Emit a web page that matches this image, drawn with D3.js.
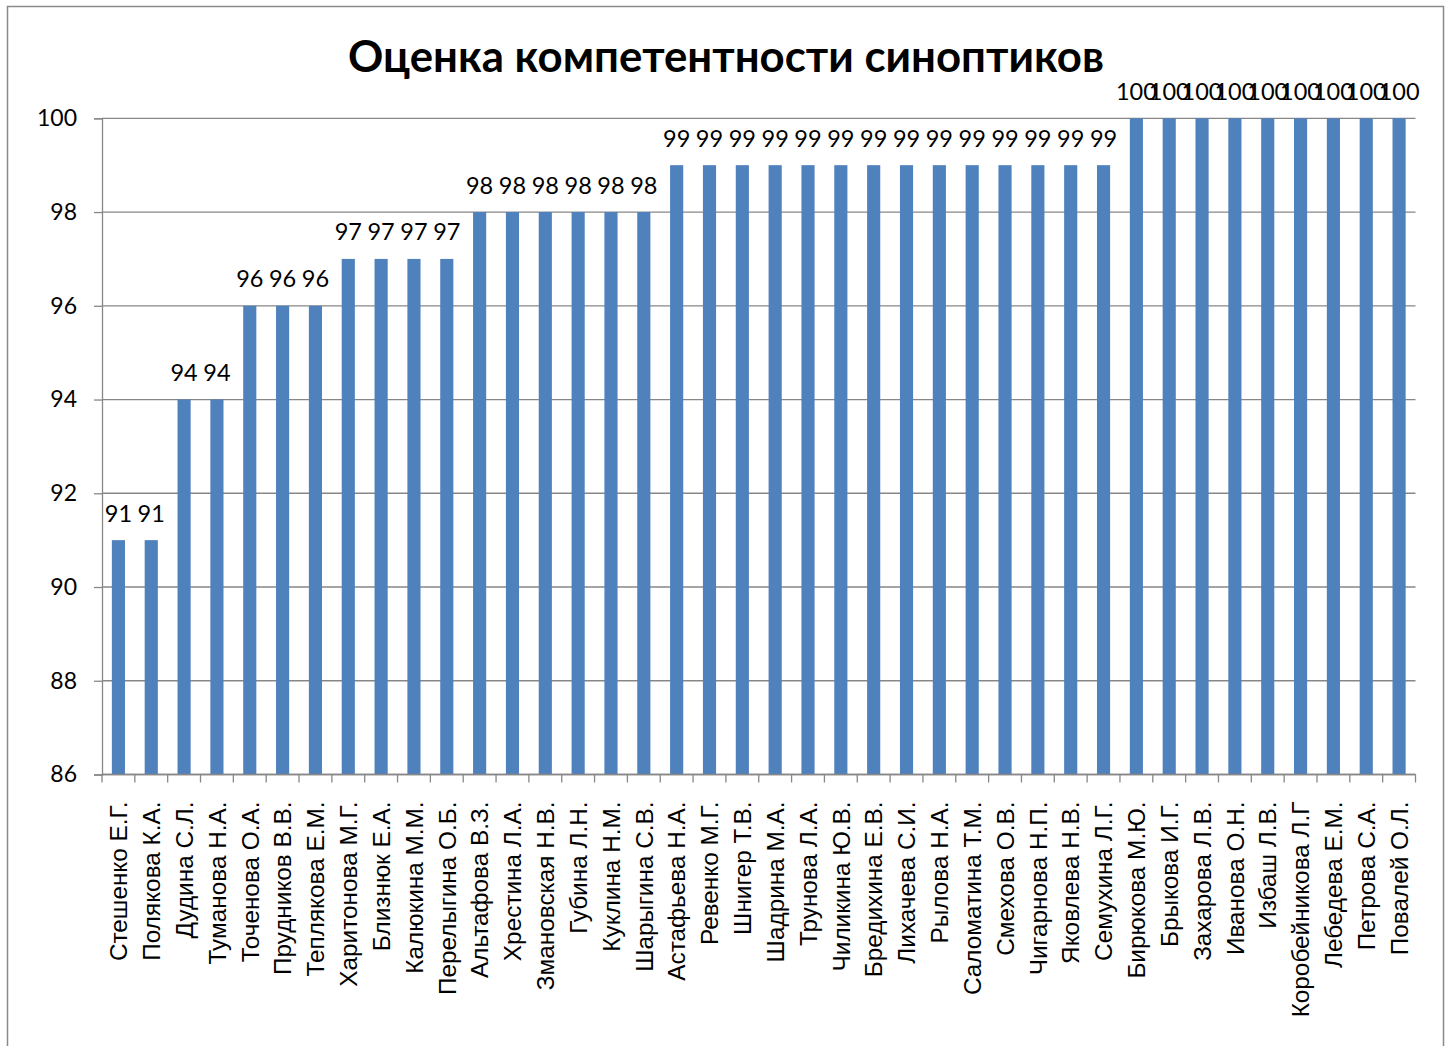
<!DOCTYPE html>
<html>
<head>
<meta charset="utf-8">
<script src="https://cdn.jsdelivr.net/npm/d3@7"></script>
<style>
  html, body { margin: 0; padding: 0; background: #fff; }
  svg { display: block; }
</style>
</head>
<body>
<svg id="chart" width="1453" height="1046"></svg>
<script>
const titleText = "Оценка компетентности синоптиков";
const names = [
  "Стешенко Е.Г.", "Полякова К.А.", "Дудина С.Л.", "Туманова Н.А.", "Точенова О.А.",
  "Прудников В.В.", "Теплякова Е.М.", "Харитонова М.Г.", "Близнюк Е.А.", "Калюкина М.М.",
  "Перелыгина О.Б.", "Альтафова В.З.", "Хрестина Л.А.", "Змановская Н.В.", "Губина Л.Н.",
  "Куклина Н.М.", "Шарыгина С.В.", "Астафьева Н.А.", "Ревенко М.Г.", "Шнигер Т.В.",
  "Шадрина М.А.", "Трунова Л.А.", "Чиликина Ю.В.", "Бредихина Е.В.", "Лихачева С.И.",
  "Рылова Н.А.", "Саломатина Т.М.", "Смехова О.В.", "Чигарнова Н.П.", "Яковлева Н.В.",
  "Семухина Л.Г.", "Бирюкова М.Ю.", "Брыкова И.Г.", "Захарова Л.В.", "Иванова О.Н.",
  "Избаш Л.В.", "Коробейникова Л.Г", "Лебедева Е.М.", "Петрова С.А.", "Повалей О.Л."
];
const scores = [
  91, 91, 94, 94, 96,
  96, 96, 97, 97, 97,
  97, 98, 98, 98, 98,
  98, 98, 99, 99, 99,
  99, 99, 99, 99, 99,
  99, 99, 99, 99, 99,
  99, 100, 100, 100, 100,
  100, 100, 100, 100, 100
];
const yTicks = [86, 88, 90, 92, 94, 96, 98, 100];
const yDomain = [86, 100];

(function () {
const svg = d3.select("#chart");
const pLeft = 102, pRight = 1415.5, pTop = 118.3, pBottom = 774.5;
const grey = "#878787";
const numFont = "Lato, 'Open Sans', sans-serif";
const catFont = "'Liberation Sans', Arial, sans-serif";

// outer frame
svg.append("rect").attr("x", 7.5).attr("y", 6.5).attr("width", 1436).attr("height", 1060)
  .attr("fill", "#fff").attr("stroke", "#8a8a8a").attr("stroke-width", 1.5);

const x = d3.scaleBand().domain(names).range([pLeft, pRight]).paddingInner(0.6).paddingOuter(0.3);
const y = d3.scaleLinear().domain(yDomain).range([pBottom, pTop]);

// gridlines
svg.append("g").selectAll("line").data(yTicks).join("line")
  .attr("x1", pLeft).attr("x2", pRight).attr("y1", d => y(d)).attr("y2", d => y(d))
  .attr("stroke", grey).attr("stroke-width", 1.3);

// y axis
const yAxis = d3.axisLeft(y).tickValues(yTicks).tickSize(8).tickPadding(17).tickFormat(d3.format("d"));
const yg = svg.append("g").attr("transform", `translate(${pLeft},0)`).call(yAxis);
yg.select(".domain").attr("stroke", grey).attr("stroke-width", 1.3);
yg.selectAll(".tick line").attr("stroke", grey).attr("stroke-width", 1.3);
yg.selectAll(".tick text").attr("font-family", numFont).attr("font-size", 23).attr("fill", "#000");

// bars
svg.append("g").selectAll("rect").data(names).join("rect")
  .attr("x", d => x(d)).attr("width", x.bandwidth())
  .attr("y", (d, i) => y(scores[i])).attr("height", (d, i) => y(yDomain[0]) - y(scores[i]))
  .attr("fill", "#4F81BD");

// x axis
const step = x.step();
const boundaries = d3.range(names.length + 1).map(i => pLeft + i * step);
svg.append("line").attr("x1", pLeft).attr("x2", pRight).attr("y1", pBottom).attr("y2", pBottom)
  .attr("stroke", grey).attr("stroke-width", 1.3);
svg.append("g").selectAll("line").data(boundaries).join("line")
  .attr("x1", d => d).attr("x2", d => d).attr("y1", pBottom).attr("y2", pBottom + 8)
  .attr("stroke", grey).attr("stroke-width", 1.3);

// category labels
const catG = svg.append("g");
catG.selectAll("text").data(names).join("text")
  .attr("transform", d => `translate(${x(d) + x.bandwidth() / 2},${pBottom + 27}) rotate(-90)`)
  .attr("text-anchor", "end").attr("dy", "0.36em")
  .attr("font-family", catFont).attr("font-size", 22).attr("fill", "#000")
  .text(d => d);
{
  const idx = names.indexOf("Коробейникова Л.Г");
  const node = catG.selectAll("text").nodes()[idx];
  const len = node.getComputedTextLength();
  if (len > 0) catG.selectAll("text").attr("font-size", 22 * 216 / len);
}

// data labels
svg.append("g").selectAll("text").data(names).join("text")
  .attr("x", d => x(d) + x.bandwidth() / 2)
  .attr("y", (d, i) => y(scores[i]) - 18.5)
  .attr("text-anchor", "middle")
  .attr("font-family", numFont).attr("font-size", 23.5).attr("fill", "#000")
  .text((d, i) => scores[i]);

// title
const title = svg.append("text").attr("x", 726).attr("y", 72).attr("text-anchor", "middle")
  .attr("font-family", numFont).attr("font-weight", "bold").attr("font-size", 40).attr("fill", "#000")
  .text(titleText);
{
  const len = title.node().getComputedTextLength();
  if (len > 0) title.attr("font-size", 40 * 756 / len);
}
})();
</script>
</body>
</html>
